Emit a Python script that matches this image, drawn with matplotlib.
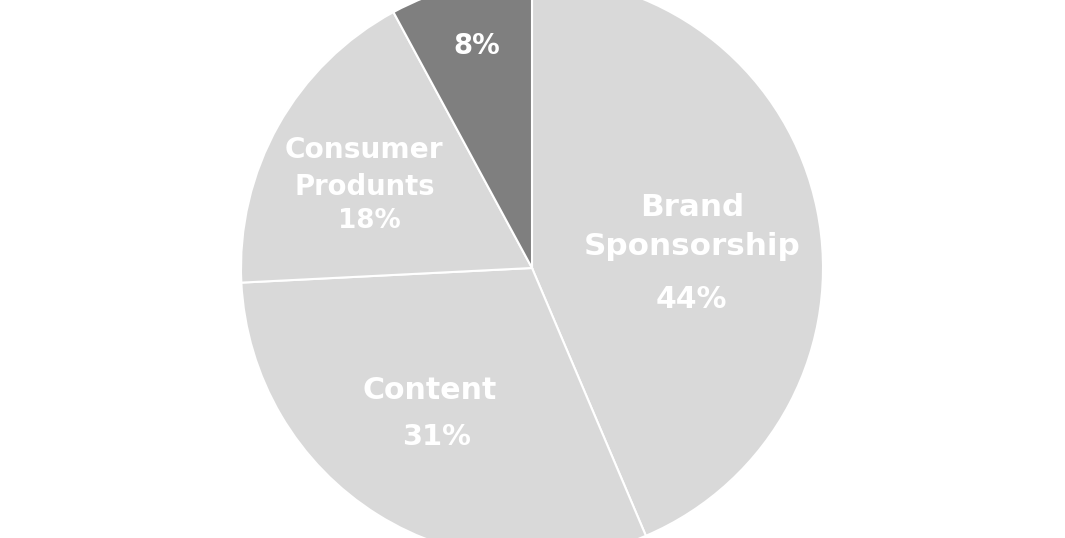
import matplotlib.pyplot as plt

# revenue split (shown rounded on the chart)
segments = ["Brand Sponsorship", "Content", "Consumer Produnts", "Other"]
shares = [43.6, 30.6, 17.9, 7.9]
shown_pct = ["44%", "31%", "18%", "8%"]
colors = ["#d9d9d9", "#d9d9d9", "#d9d9d9", "#7f7f7f"]

# label lines: (text, x px, baseline px, font size pt)
label_lines = [
    ("Brand", 692, 216, 22.3),
    ("Sponsorship", 692, 255, 22.3),
    (shown_pct[0], 691, 308, 21.5),
    ("Content", 430, 399, 21.6),
    (shown_pct[1], 437, 445, 20.8),
    ("Consumer", 364, 158, 20.2),
    ("Produnts", 365, 195, 19.8),
    (shown_pct[2], 369, 228, 18.8),
    (shown_pct[3], 477, 54, 19.9),
]

W, H = 1065, 538
CX, CY, R = 532, 268, 291


def px_to_data(px, py):
    return (px - CX) / R, (CY - py) / R


fig = plt.figure(figsize=(W / 100, H / 100), dpi=100)
ax = fig.add_axes([0, 0, 1, 1])
ax.pie(shares, colors=colors, startangle=90, counterclock=False,
       radius=1, wedgeprops=dict(edgecolor="white", linewidth=1.5))

for txt, px, py, size in label_lines:
    x, y = px_to_data(px, py)
    ax.text(x, y, txt, ha="center", va="baseline", color="white",
            fontsize=size, fontweight="bold", family="DejaVu Sans")

x0, y0 = px_to_data(0, H)
x1, y1 = px_to_data(W, 0)
ax.set_xlim(x0, x1)
ax.set_ylim(y0, y1)
ax.set_aspect("equal")
ax.axis("off")

fig.savefig("out.png", dpi=100, facecolor="white")
